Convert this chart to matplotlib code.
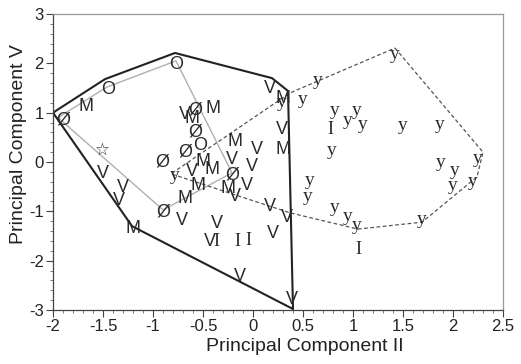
import matplotlib
matplotlib.use("Agg")
import matplotlib.pyplot as plt
from matplotlib.ticker import MultipleLocator
from matplotlib.transforms import offset_copy

# ---- data (Principal Component II, Principal Component V) ----
m_x = [-1.67, -0.40, -0.61, -0.18, -0.50, -0.41, -0.55, -0.68, -0.25, 0.30, 0.30, -1.20]
m_y = [1.16, 1.12, 0.91, 0.45, 0.04, -0.12, -0.43, -0.71, -0.51, 1.32, 0.30, -1.32]

v_x = [-0.68, 0.04, -0.01, -0.61, -0.21, -0.18, -0.06, -0.71, -0.36, 0.17, 0.34, 0.20,
       0.17, 0.29, -1.50, -1.30, -1.34, -0.43, -0.13, 0.39]
v_y = [0.99, 0.28, -0.06, -0.16, 0.08, -0.67, -0.43, -1.14, -1.22, -0.87, -1.08, -1.42,
       1.52, 0.69, -0.20, -0.49, -0.75, -1.58, -2.29, -2.76]

i_x = [-0.37, -0.16, -0.05, 0.77, 1.05]
i_y = [-1.58, -1.58, -1.56, 0.69, -1.74]

o_x = [-0.77, -1.45, -0.53]
o_y = [2.01, 1.50, 0.37]

oslash_x = [-1.90, -0.58, -0.58, -0.68, -0.91, -0.21, -0.90]
oslash_y = [0.89, 1.10, 0.65, 0.24, 0.04, -0.22, -0.97]

star_x = [-1.51]
star_y = [0.28]

yy_x = [-0.78, 0.50, 0.65, 1.42, 0.82, 0.95, 1.04, 1.10, 1.50, 1.87, 0.79, 0.57, 0.55,
        0.82, 0.95, 1.04, 1.69, 1.88, 2.02, 2.00, 2.20, 2.25, 0.29]
yy_y = [-0.32, 1.22, 1.62, 2.13, 1.01, 0.81, 1.01, 0.71, 0.69, 0.71, 0.20, -0.41, -0.73,
        -0.97, -1.14, -1.32, -1.20, -0.06, -0.22, -0.51, -0.43, 0.04, 1.16]

# hull outlines
hull_solid_x = [-2.00, -1.48, -0.78, 0.19, 0.35, 0.40, -1.21]
hull_solid_y = [1.00, 1.68, 2.21, 1.70, 1.44, -2.98, -1.30]

hull_dash_x = [1.42, 2.30, 2.24, 1.69, 1.05, 0.37, -0.82, 0.37]
hull_dash_y = [2.31, 0.20, -0.30, -1.22, -1.36, -1.03, -0.24, 1.40]

hull_gray_x = [-1.95, -1.46, -0.77, -0.21, -0.90]
hull_gray_y = [0.90, 1.52, 2.05, -0.22, -0.97]

x_ticks = [-2, -1.5, -1, -0.5, 0, 0.5, 1, 1.5, 2, 2.5]
x_tick_labels = ["-2", "-1.5", "-1", "-0.5", "0", "0.5", "1", "1.5", "2", "2.5"]
y_ticks = [-3, -2, -1, 0, 1, 2, 3]
y_tick_labels = ["-3", "-2", "-1", "0", "1", "2", "3"]

# ---- figure ----
fig = plt.figure(figsize=(5.21, 3.64), dpi=100)
ax = fig.add_axes([53 / 521, 1 - 310 / 364, 450 / 521, 296 / 364])

def closed(xs, ys):
    return list(xs) + [xs[0]], list(ys) + [ys[0]]

gx, gy = closed(hull_gray_x, hull_gray_y)
ax.plot(gx, gy, color="#b0b0b0", lw=1.0, zorder=1)
dx, dy = closed(hull_dash_x, hull_dash_y)
ax.plot(dx, dy, color="#555555", lw=0.9, ls=(0, (3, 2)), zorder=1)
sx, sy = closed(hull_solid_x, hull_solid_y)
ax.plot(sx, sy, color="#222222", lw=1.5, zorder=2)

sans = "Liberation Sans"
serif = "Liberation Serif"
tr_caps = offset_copy(ax.transData, fig=fig, x=0, y=-1.8, units="dots")
tr_y = offset_copy(ax.transData, fig=fig, x=0, y=2.0, units="dots")

def put(xs, ys, s, fam, size, tr):
    for x, y in zip(xs, ys):
        ax.text(x, y, s, ha="center", va="center", family=fam, fontsize=size,
                color="#2a2a2a", transform=tr, zorder=3)

put(m_x, m_y, "M", sans, 13, tr_caps)
put(v_x, v_y, "V", sans, 13, tr_caps)
put(o_x, o_y, "O", sans, 13, tr_caps)
put(oslash_x, oslash_y, "Ø", sans, 13, tr_caps)
put(star_x, star_y, "☆", "DejaVu Sans", 12, tr_caps)
put(i_x, i_y, "I", serif, 13, tr_caps)
put(yy_x, yy_y, "y", serif, 14, tr_y)

ax.set_xlim(-2, 2.5)
ax.set_ylim(-3, 3)
ax.set_xticks(x_ticks)
ax.set_xticklabels(x_tick_labels)
ax.set_yticks(y_ticks)
ax.set_yticklabels(y_tick_labels)
ax.xaxis.set_minor_locator(MultipleLocator(0.1))
ax.yaxis.set_minor_locator(MultipleLocator(0.2))
ax.tick_params(which="major", direction="out", length=5, width=0.8, color="#444444",
               labelsize=12, labelcolor="#222222", pad=1.5)
ax.tick_params(which="minor", direction="out", length=2.5, width=0.6, color="#666666")
for lab in ax.get_xticklabels() + ax.get_yticklabels():
    lab.set_family(sans)

for side in ["left", "bottom"]:
    ax.spines[side].set_color("#444444")
    ax.spines[side].set_linewidth(0.9)
for side in ["top", "right"]:
    ax.spines[side].set_color("#999999")
    ax.spines[side].set_linewidth(0.9)

ax.set_xlabel("Principal Component II", family=sans, fontsize=14, color="#222222", labelpad=5)
ax.set_ylabel("Principal Component V", family=sans, fontsize=14, color="#222222", labelpad=3)
ax.xaxis.set_label_coords(0.56, -0.095)
ax.yaxis.set_label_coords(-0.057, 0.56)

fig.savefig("out.png", dpi=100)
